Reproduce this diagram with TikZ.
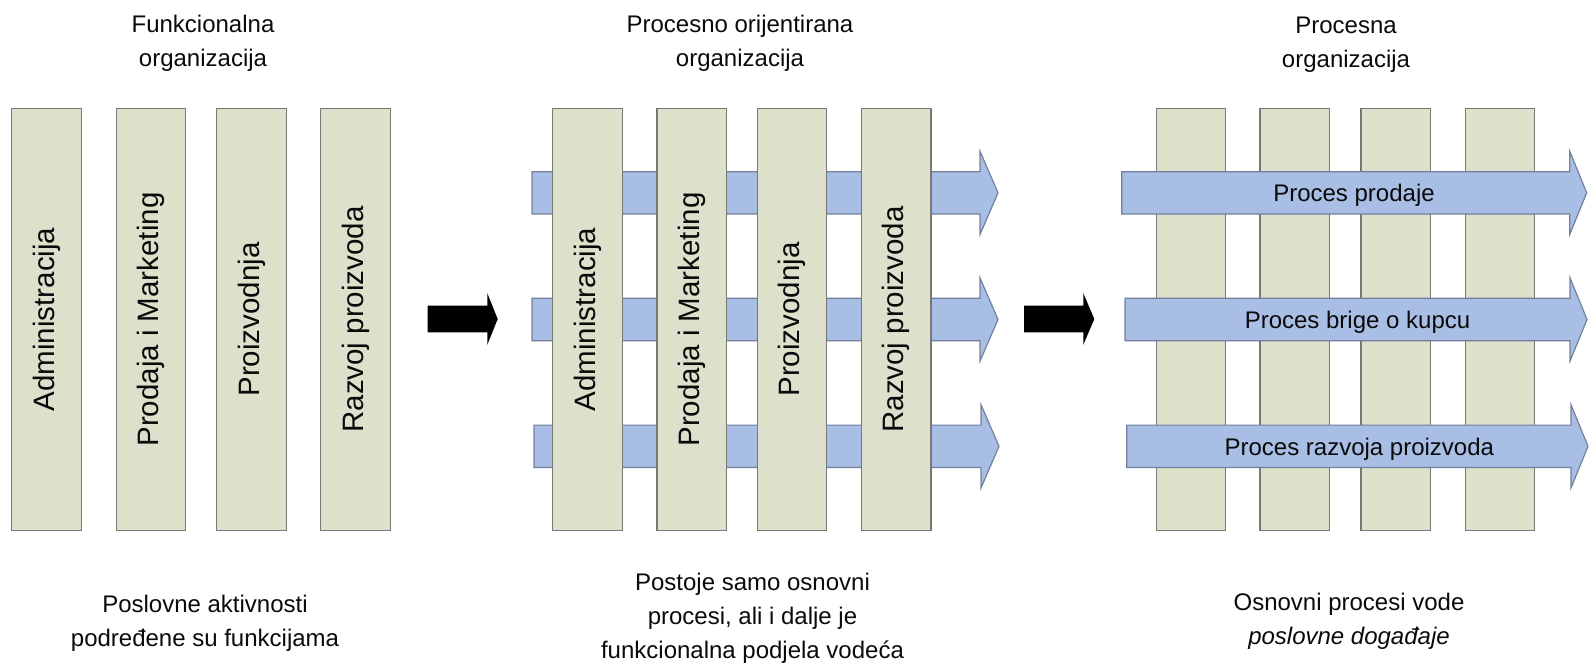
\documentclass[tikz,border=0pt]{standalone}
\usepackage{fontspec}
\setmainfont{Liberation Sans}
\definecolor{colfill}{RGB}{221,225,204}
\definecolor{colline}{RGB}{120,120,120}
\definecolor{flowfill}{RGB}{168,190,228}
\definecolor{flowline}{RGB}{115,128,155}
\definecolor{ink}{RGB}{10,10,10}

% block arrow: #1 style, #2 tail x, #3 centre y, #4 tip x,
% #5 half shaft width, #6 half head width, #7 head length
\newcommand\flowshape[7]{%
  \path[#1] (#2,#3-#5) -- (#4-#7,#3-#5) -- (#4-#7,#3-#6) -- (#4,#3)
    -- (#4-#7,#3+#6) -- (#4-#7,#3+#5) -- (#2,#3+#5) -- cycle;}

\tikzset{
  column/.style={draw=colline, fill=colfill, line width=1.3pt, rotate=90,
    minimum width=422pt, minimum height=69.5pt, inner sep=0pt,
    text=ink, font=\fontsize{29.5}{34}\selectfont},
  flow/.style={draw=flowline, fill=flowfill, line width=1.2pt, line join=miter},
  shift arrow/.style={fill=black},
  % multi-line captions are placed by the baseline of their last line
  caption/.style={align=center, inner sep=0pt, text=ink, anchor=base,
    font=\fontsize{24}{34}\selectfont},
  flowlabel/.style={inner sep=0pt, text=ink, anchor=base,
    font=\fontsize{24}{34}\selectfont}
}

\begin{document}
\begin{tikzpicture}[x=1pt,y=-1pt]
\useasboundingbox (0,0) rectangle (1594,666);

% ---------- functional organisation ----------
\node[caption] (t1) at (203,66.5) {Funkcionalna\\organizacija};
\node[column] (a1) at (46.5,319.5)  {Administracija};
\node[column] (a2) at (151,319.5)   {Prodaja i Marketing};
\node[column] (a3) at (251.5,319.5) {Proizvodnja};
\node[column] (a4) at (355.5,319.5) {Razvoj proizvoda};
\node[caption] (c1) at (205,646.5) {Poslovne aktivnosti\\podređene su funkcijama};

\flowshape{shift arrow}{427.7}{319}{497.7}{13.3}{25.8}{10.4}

% ---------- process-oriented organisation ----------
\node[caption] (t2) at (740,67) {Procesno orijentirana\\organizacija};
\flowshape{flow}{532}{192.85}{998}{21.2}{41.6}{18}
\flowshape{flow}{532}{319.5}{998}{21.2}{41.6}{18}
\flowshape{flow}{534}{446.3}{999}{21.2}{41.6}{18}
\node[column] (b1) at (587.5,319.5) {Administracija};
\node[column] (b2) at (691.7,319.5) {Prodaja i Marketing};
\node[column] (b3) at (792,319.5)   {Proizvodnja};
\node[column] (b4) at (896.3,319.5) {Razvoj proizvoda};
\node[caption] (c2) at (752.5,658.3) {Postoje samo osnovni\\procesi, ali i dalje je\\funkcionalna podjela vodeća};

\flowshape{shift arrow}{1024}{319}{1094.3}{13.3}{25.8}{11}

% ---------- process organisation ----------
\node[caption] (t3) at (1346,68) {Procesna\\organizacija};
\node[column] (r1) at (1191,319.5)   {};
\node[column] (r2) at (1294.7,319.5) {};
\node[column] (r3) at (1395.7,319.5) {};
\node[column] (r4) at (1500,319.5)   {};
\flowshape{flow}{1121.7}{192.85}{1586.7}{21.2}{41.6}{17}
\flowshape{flow}{1125}{319.5}{1587}{21.2}{41.6}{17}
\flowshape{flow}{1126.7}{446.3}{1588}{21.2}{41.6}{17}
\node[flowlabel] (p1) at (1354,201.8) {Proces prodaje};
\node[flowlabel] (p2) at (1357.5,328.4) {Proces brige o kupcu};
\node[flowlabel] (p3) at (1359.3,455.2) {Proces razvoja proizvoda};
\node[caption] (c3) at (1349,644) {Osnovni procesi vode\\\textit{poslovne događaje}};
\end{tikzpicture}
\end{document}
